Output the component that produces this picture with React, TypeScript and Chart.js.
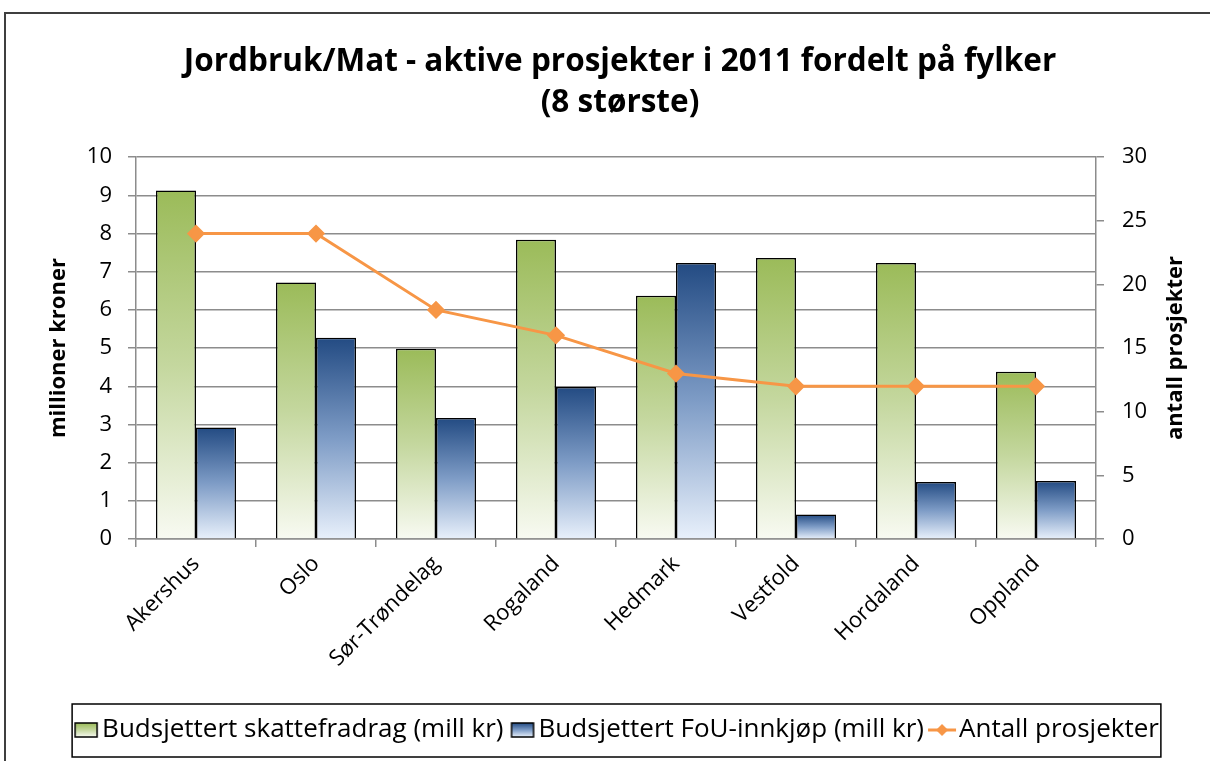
import React, { useEffect, useRef } from "react";
import { Chart, registerables } from "chart.js";

Chart.register(...registerables);

const categories = ["Akershus", "Oslo", "Sør-Trøndelag", "Rogaland", "Hedmark", "Vestfold", "Hordaland", "Oppland"];
const skattefradrag = [9.13, 6.72, 4.98, 7.84, 6.37, 7.36, 7.23, 4.38];
const fouInnkjop = [2.92, 5.27, 3.17, 3.98, 7.23, 0.64, 1.49, 1.52];
const antallProsjekter = [24, 24, 18, 16, 13, 12, 12, 12];

const leftTicks = [0, 1, 2, 3, 4, 5, 6, 7, 8, 9, 10];
const rightTicks = [0, 5, 10, 15, 20, 25, 30];
const rightTitle = "antall prosjekter";

const FONT = '"Open Sans", Lato, sans-serif';
const GREEN = ["#9BBB59", "#C4D79E", "#F8FAF2"];
const BLUE = ["#234B83", "#7E9CC6", "#E8F0FB"];
const ORANGE = "#F79646";

function barGradient(stops: string[]) {
  return (c: any) => {
    const chart = c.chart;
    if (!chart.chartArea || c.type !== "data") return stops[0];
    const ys = chart.scales.y;
    const top = ys.getPixelForValue(c.raw);
    const bottom = ys.getPixelForValue(0);
    const g = chart.ctx.createLinearGradient(0, top, 0, bottom);
    g.addColorStop(0, stops[0]);
    g.addColorStop(0.5, stops[1]);
    g.addColorStop(1, stops[2]);
    return g;
  };
}

function swatch(stops: string[]) {
  const cv = document.createElement("canvas");
  cv.width = 40;
  cv.height = 18;
  const x = cv.getContext("2d")!;
  const g = x.createLinearGradient(0, 2, 0, 16);
  g.addColorStop(0, stops[0]);
  g.addColorStop(0.5, stops[1]);
  g.addColorStop(1, stops[2]);
  x.fillStyle = g;
  x.fillRect(10, 2, 22, 14);
  x.strokeStyle = "#000";
  x.lineWidth = 1.5;
  x.strokeRect(10, 2, 22, 14);
  return cv;
}

function lineIcon() {
  const cv = document.createElement("canvas");
  cv.width = 40;
  cv.height = 18;
  const x = cv.getContext("2d")!;
  x.strokeStyle = ORANGE;
  x.lineWidth = 3;
  x.beginPath();
  x.moveTo(6, 9);
  x.lineTo(34, 9);
  x.stroke();
  x.fillStyle = ORANGE;
  x.beginPath();
  x.moveTo(20, 3);
  x.lineTo(26, 9);
  x.lineTo(20, 15);
  x.lineTo(14, 9);
  x.closePath();
  x.fill();
  return cv;
}

const frame = {
  id: "frame",
  beforeDraw(chart: any) {
    const ctx = chart.ctx;
    ctx.save();
    ctx.fillStyle = "#fff";
    ctx.fillRect(0, 0, chart.width, chart.height);
    ctx.strokeStyle = "#3f3f3f";
    ctx.lineWidth = 2;
    ctx.strokeRect(5, 13, chart.width + 20, chart.height + 20);
    ctx.restore();
  },
  afterDraw(chart: any) {
    const ctx = chart.ctx;
    const area = chart.chartArea;
    ctx.save();
    ctx.fillStyle = "#000";
    ctx.font = `bold 22px ${FONT}`;
    ctx.textAlign = "center";
    ctx.textBaseline = "middle";
    ctx.translate(1176, (area.top + area.bottom) / 2);
    ctx.rotate(-Math.PI / 2);
    ctx.fillText(rightTitle, 0, 0);
    ctx.restore();

    const lg = chart.legend;
    if (!lg || !lg.legendHitBoxes || !lg.legendHitBoxes.length) return;
    const hb = lg.legendHitBoxes;
    const first = hb[0];
    const last = hb[hb.length - 1];
    ctx.save();
    ctx.strokeStyle = "#000";
    ctx.lineWidth = 1.5;
    const l = first.left - 9;
    const r = last.left + last.width + 2;
    const cy = first.top + first.height / 2;
    ctx.strokeRect(l, cy - 26, r - l, 53);
    ctx.restore();
  },
};

export default function App() {
  const ref = useRef<HTMLCanvasElement>(null);
  useEffect(() => {
    const icons = [swatch(GREEN), swatch(BLUE), lineIcon()];
    const chart = new Chart(ref.current!, {
      type: "bar",
      data: {
        labels: categories,
        datasets: [
          {
            type: "bar",
            label: "Budsjettert skattefradrag (mill kr)",
            data: skattefradrag,
            backgroundColor: barGradient(GREEN),
            borderColor: "#000",
            borderWidth: 1.5,
            yAxisID: "y",
            order: 2,
            categoryPercentage: 0.667,
            barPercentage: 1,
          } as any,
          {
            type: "bar",
            label: "Budsjettert FoU-innkjøp (mill kr)",
            data: fouInnkjop,
            backgroundColor: barGradient(BLUE),
            borderColor: "#000",
            borderWidth: 1.5,
            yAxisID: "y",
            order: 2,
            categoryPercentage: 0.667,
            barPercentage: 1,
          },
          {
            type: "line",
            label: "Antall prosjekter",
            data: antallProsjekter,
            borderColor: ORANGE,
            backgroundColor: ORANGE,
            borderWidth: 3,
            pointStyle: "rectRot",
            pointRadius: 7,
            pointBackgroundColor: ORANGE,
            pointBorderColor: ORANGE,
            yAxisID: "y1",
            order: 1,
            tension: 0,
          },
        ],
      },
      options: {
        animation: false,
        responsive: false,
        maintainAspectRatio: false,
        layout: { padding: { left: 40, right: 10, top: 0, bottom: 8 } },
        plugins: {
          title: {
            display: true,
            text: ["Jordbruk/Mat - aktive prosjekter i 2011 fordelt på fylker", "(8 største)"],
            color: "#000",
            font: { family: FONT, size: 31.5, weight: "bold", lineHeight: 1.32 },
            padding: { top: 41, bottom: 33 },
          },
          legend: {
            position: "bottom",
            labels: {
              color: "#000",
              font: { family: FONT, size: 26 },
              usePointStyle: true,
              pointStyleWidth: 8,
              padding: 14,
              generateLabels: (ch: any) => {
                const items = Chart.defaults.plugins.legend.labels.generateLabels(ch);
                items.sort((a: any, b: any) => a.datasetIndex - b.datasetIndex);
                return items.map((it: any) => ({ ...it, pointStyle: icons[it.datasetIndex] }));
              },
            },
          },
          tooltip: { enabled: false },
        },
        scales: {
          x: {
            grid: { offset: true, drawOnChartArea: false, drawTicks: true, tickLength: 8, color: "#8c8c8c", lineWidth: 1.5 },
            border: { color: "#8c8c8c", width: 1.5 },
            ticks: {
              color: "#000",
              font: { family: FONT, size: 22 },
              minRotation: 45,
              maxRotation: 45,
              padding: 4,
            },
            afterFit: (s: any) => {
              s.height = 164;
            },
          },
          y: {
            position: "left",
            min: 0,
            max: 10,
            afterBuildTicks: (s: any) => {
              s.ticks = leftTicks.map((v) => ({ value: v }));
            },
            grid: { color: "#8c8c8c", lineWidth: 1.5, tickLength: 8 },
            border: { color: "#8c8c8c", width: 1.5 },
            ticks: { color: "#000", font: { family: FONT, size: 22 }, padding: 16 },
            title: {
              display: true,
              text: "millioner kroner",
              color: "#000",
              font: { family: FONT, size: 22, weight: "bold" },
              padding: { top: 6, bottom: 0 },
            },
            afterFit: (s: any) => {
              s.width = 96;
            },
          },
          y1: {
            position: "right",
            min: 0,
            max: 30,
            afterBuildTicks: (s: any) => {
              s.ticks = rightTicks.map((v) => ({ value: v }));
            },
            grid: { drawOnChartArea: false, color: "#8c8c8c", lineWidth: 1.5, tickLength: 8 },
            border: { color: "#8c8c8c", width: 1.5 },
            ticks: { color: "#000", font: { family: FONT, size: 22 }, padding: 18 },
            afterFit: (s: any) => {
              s.width = 104;
            },
          },
        },
      },
      plugins: [frame],
    });
    return () => chart.destroy();
  }, []);
  return (
    <div style={{ position: "absolute", left: 0, top: 0, width: 1210, height: 761 }}>
      <canvas ref={ref} width={1210} height={761} style={{ display: "block" }} />
    </div>
  );
}
